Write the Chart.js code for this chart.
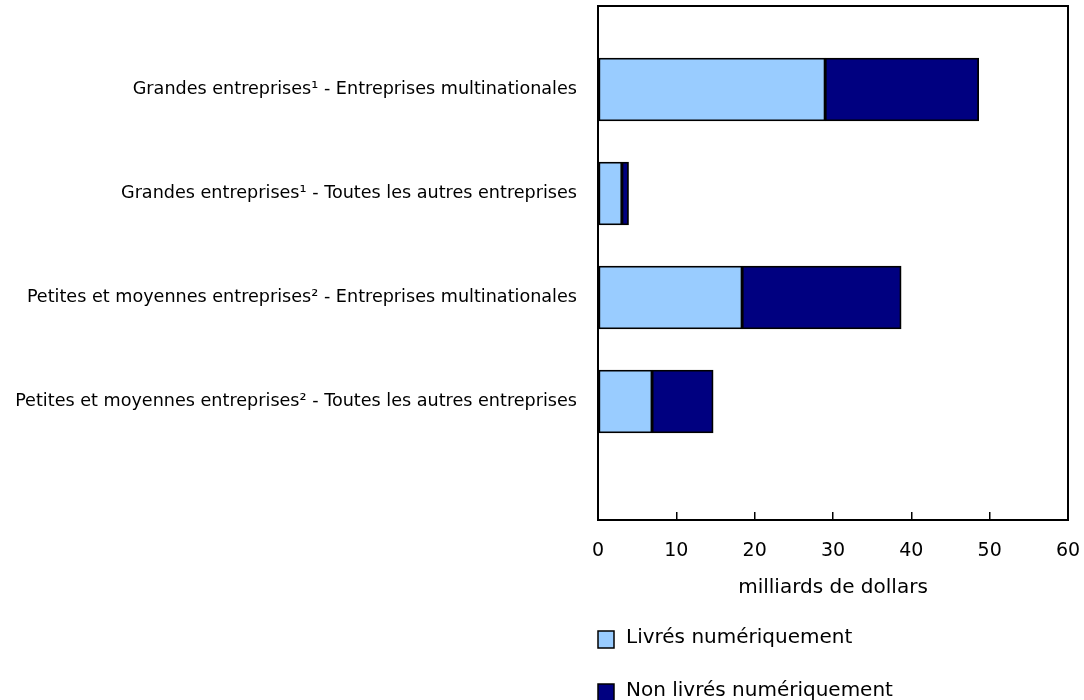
<!DOCTYPE html>
<html>
<head>
<meta charset="utf-8">
<script src="https://cdn.jsdelivr.net/npm/chart.js@4.4.1/dist/chart.umd.min.js"></script>
<style>
  html, body { margin: 0; padding: 0; background: #fff; }
  #wrap { width: 1084px; height: 700px; }
</style>
</head>
<body>
<div id="wrap"><canvas id="chart"></canvas></div>
<script>
// categories, top to bottom
const categories = [
    "Grandes entreprises\u00b9 - Entreprises multinationales",
    "Grandes entreprises\u00b9 - Toutes les autres entreprises",
    "Petites et moyennes entreprises\u00b2 - Entreprises multinationales",
    "Petites et moyennes entreprises\u00b2 - Toutes les autres entreprises"
];
const rowPositions = [1, 2, 3, 4];
const seriesNames = ["Livrés numériquement", "Non livrés numériquement"];
const livres = [29.0, 3.05, 18.4, 6.9];
const nonLivres = [19.6, 0.85, 20.3, 7.8];
const xTicks = [0, 10, 20, 30, 40, 50, 60];
const xTitle = "milliards de dollars";

const FONT = '"DejaVu Sans", Verdana, sans-serif';

function toPoints(values) {
    return values.map((v, i) => ({ x: v, y: rowPositions[i] }));
}

// frame around the plot area
const frame = {
    id: 'frame',
    afterDatasetsDraw(chart) {
        const a = chart.chartArea, ctx = chart.ctx;
        ctx.save();
        ctx.strokeStyle = '#000';
        ctx.lineWidth = 2;
        ctx.strokeRect(a.left, a.top, a.right - a.left, a.bottom - a.top);
        ctx.restore();
    }
};

// legend stacked under the x axis title, left aligned on the plot
const sideLegend = {
    id: 'sideLegend',
    afterDraw(chart) {
        const ctx = chart.ctx;
        const left = chart.chartArea.left;
        ctx.save();
        ctx.font = '20px ' + FONT;
        ctx.textBaseline = 'middle';
        chart.data.datasets.forEach((ds, i) => {
            const cy = 638 + i * 53;
            ctx.fillStyle = ds.backgroundColor;
            ctx.fillRect(left, cy - 7, 16, 17);
            ctx.strokeStyle = '#000';
            ctx.lineWidth = 1.5;
            ctx.strokeRect(left, cy - 7, 16, 17);
            ctx.fillStyle = '#000';
            ctx.fillText(ds.label, left + 28, cy);
        });
        ctx.restore();
    }
};

new Chart(document.getElementById('chart').getContext('2d'), {
    type: 'bar',
    data: {
        datasets: [
            {
                label: seriesNames[0],
                data: toPoints(livres),
                backgroundColor: '#99CCFF',
                borderColor: '#000',
                borderWidth: 1.8,
                borderSkipped: false,
                barThickness: 63
            },
            {
                label: seriesNames[1],
                data: toPoints(nonLivres),
                backgroundColor: '#000080',
                borderColor: '#000',
                borderWidth: 1.8,
                borderSkipped: false,
                barThickness: 63
            }
        ]
    },
    options: {
        indexAxis: 'y',
        responsive: true,
        maintainAspectRatio: false,
        animation: false,
        layout: { padding: { left: 0, right: 16, top: 6, bottom: 90 } },
        plugins: {
            legend: { display: false },
            tooltip: { enabled: false }
        },
        scales: {
            y: {
                type: 'linear',
                reverse: true,
                stacked: true,
                offset: false,
                min: 0.197,
                max: 5.139,
                grid: { display: false, offset: false, drawTicks: false },
                border: { display: false },
                afterBuildTicks: (scale) => {
                    scale.ticks = rowPositions.map(v => ({ value: v }));
                },
                afterFit: (scale) => {
                    scale.width = 598;
                    scale.paddingTop = 0;
                    scale.paddingBottom = 0;
                },
                ticks: {
                    padding: 21,
                    color: '#000',
                    font: { family: FONT, size: 17.6 },
                    callback: (v) => categories[rowPositions.indexOf(v)]
                }
            },
            x: {
                stacked: true,
                min: xTicks[0],
                max: xTicks[xTicks.length - 1],
                border: { display: false },
                grid: {
                    drawOnChartArea: false,
                    tickLength: -8,
                    color: '#000',
                    lineWidth: 1.5
                },
                afterBuildTicks: (scale) => {
                    scale.ticks = xTicks.map(v => ({ value: v }));
                },
                afterFit: (scale) => {
                    scale.height = 90;
                    scale.paddingLeft = 0;
                    scale.paddingRight = 0;
                },
                ticks: {
                    padding: 28,
                    color: '#000',
                    font: { family: FONT, size: 19 },
                    maxRotation: 0
                },
                title: {
                    display: true,
                    text: xTitle,
                    color: '#000',
                    font: { family: FONT, size: 20 },
                    padding: { top: 2, bottom: 10 }
                }
            }
        }
    },
    plugins: [frame, sideLegend]
});
</script>
</body>
</html>
